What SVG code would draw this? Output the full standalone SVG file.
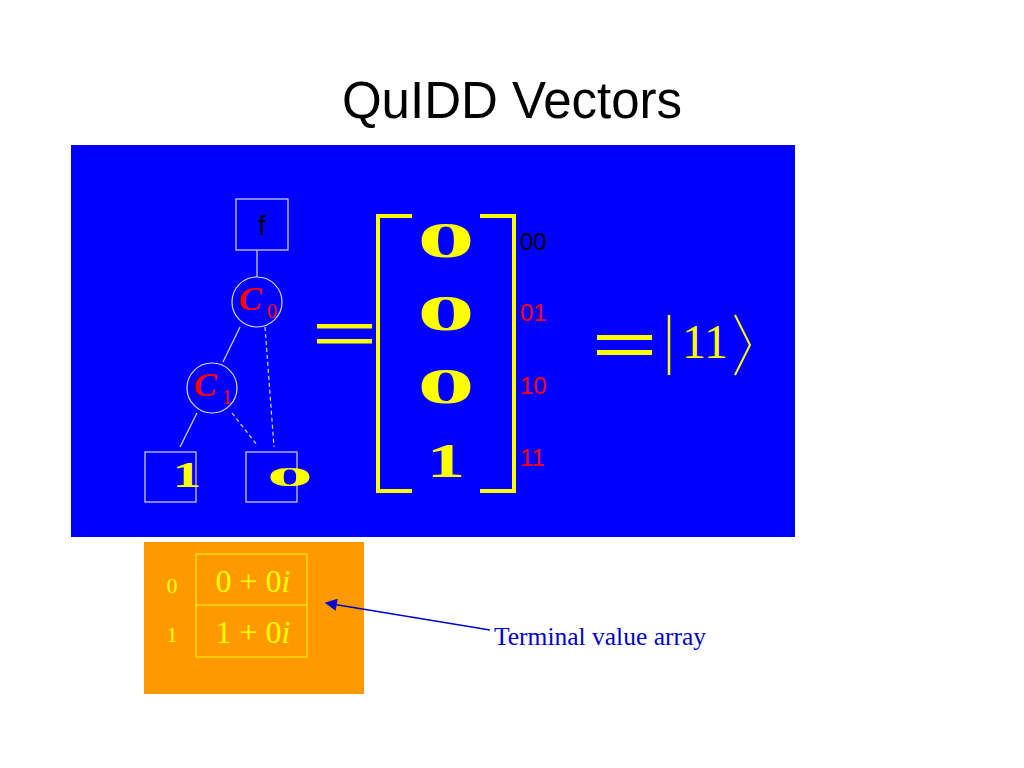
<svg xmlns="http://www.w3.org/2000/svg" width="1024" height="768" viewBox="0 0 1024 768">
<style>
.node{fill:none;stroke:#d8d8ff;stroke-width:1.2}
.edge{stroke:#d8d8ff;stroke-width:1.2;fill:none}
.dash{stroke-dasharray:4,3}
.yel{fill:#ffff00}
.ybold{font-family:"Liberation Serif",serif;font-weight:bold;fill:#ffff00}
.var{font-family:"Liberation Serif",serif;font-style:italic;font-weight:bold;fill:#ff0000}
.sub{font-family:"Liberation Serif",serif;font-style:normal;fill:#ff0000}
.lab{font-family:"Liberation Sans",sans-serif;font-size:24px}
.serif{font-family:"Liberation Serif",serif}
</style>
<defs>
<marker id="ah" viewBox="0 0 10 10" refX="9" refY="5" markerWidth="15" markerHeight="12" markerUnits="userSpaceOnUse" orient="auto">
<path d="M0,0 L10,5 L0,10 z" fill="#0000cc"/>
</marker>
</defs>
<rect width="1024" height="768" fill="#ffffff"/>
<text x="512" y="118" text-anchor="middle" font-family="Liberation Sans, sans-serif" font-size="51" fill="#000000">QuIDD Vectors</text>
<rect x="71" y="145" width="724" height="392" fill="#0000ff"/>
<rect x="144" y="542" width="220" height="152" fill="#ff9900"/>

<g id="connectors">
<line class="edge" x1="257" y1="250" x2="257" y2="277"/>
<line class="edge" x1="240" y1="327" x2="223" y2="362"/>
<line class="edge dash" x1="265" y1="327" x2="274" y2="447"/>
<line class="edge" x1="197" y1="413" x2="180" y2="447"/>
<line class="edge dash" x1="232" y1="413" x2="257" y2="445"/>
<line x1="490" y1="630" x2="326" y2="603" stroke="#0000cc" stroke-width="1.5" marker-end="url(#ah)"/>
</g>

<g id="node-f">
<rect class="node" x="236" y="199" width="52" height="51"/>
<text x="262" y="235" text-anchor="middle" font-family="Liberation Sans, sans-serif" font-size="27" fill="#000000">f</text>
</g>
<g id="node-c0">
<circle class="node" cx="257" cy="302" r="25"/>
<text x="239" y="310" class="var" font-size="34">C</text>
<text x="267" y="318" class="sub" font-size="20">0</text>
</g>
<g id="node-c1">
<circle class="node" cx="212" cy="388" r="25"/>
<text x="194" y="396" class="var" font-size="34">C</text>
<text x="222" y="404" class="sub" font-size="20">1</text>
</g>
<g id="node-t1">
<rect class="node" x="145" y="452" width="51" height="50"/>
<text class="ybold" font-size="36" text-anchor="middle" transform="translate(187,487) scale(1.6,1)">1</text>
</g>
<g id="node-t0">
<rect class="node" x="246" y="452" width="51" height="50"/>
<text class="ybold" font-size="27" text-anchor="middle" transform="translate(290,486) scale(3.4,1)">0</text>
</g>

<g id="vector">
<rect class="yel" x="317" y="324" width="55" height="4.5"/>
<rect class="yel" x="317" y="339" width="55" height="4.5"/>
<path d="M412,216 L378,216 L378,491 L412,491" fill="none" stroke="#ffff00" stroke-width="4"/>
<path d="M480,216 L514,216 L514,491 L480,491" fill="none" stroke="#ffff00" stroke-width="4"/>
<text class="ybold" font-size="50" text-anchor="middle" transform="translate(446,257) scale(2.3,1)">0</text>
<text class="ybold" font-size="50" text-anchor="middle" transform="translate(446,330) scale(2.3,1)">0</text>
<text class="ybold" font-size="50" text-anchor="middle" transform="translate(446,403) scale(2.3,1)">0</text>
<text class="ybold" font-size="48" text-anchor="middle" transform="translate(446,477) scale(1.6,1)">1</text>
<text x="520" y="250" class="lab" fill="#000000">00</text>
<text x="520" y="321" class="lab" fill="#ff0000">01</text>
<text x="520" y="394" class="lab" fill="#ff0000">10</text>
<text x="520" y="466" class="lab" fill="#ff0000">11</text>
</g>

<g id="ket">
<rect class="yel" x="597" y="335" width="55" height="5"/>
<rect class="yel" x="597" y="350" width="55" height="5"/>
<line x1="669" y1="315" x2="669" y2="375" stroke="#ffff00" stroke-width="2.5"/>
<text x="705" y="358" text-anchor="middle" class="serif" font-size="48" fill="#ffff00">11</text>
<path d="M735,315 L750,345 L735,375" fill="none" stroke="#ffff00" stroke-width="2"/>
</g>

<g id="terminal-array">
<rect x="196" y="554" width="111" height="103" fill="none" stroke="#ffff00" stroke-width="1"/>
<line x1="196" y1="605" x2="307" y2="605" stroke="#ffff00" stroke-width="1"/>
<text x="253" y="592" text-anchor="middle" class="serif" font-size="32" fill="#ffff00">0 + 0<tspan font-style="italic">i</tspan></text>
<text x="253" y="643" text-anchor="middle" class="serif" font-size="32" fill="#ffff00">1 + 0<tspan font-style="italic">i</tspan></text>
<text x="172" y="593" text-anchor="middle" class="serif" font-size="22" fill="#ffff00">0</text>
<text x="172" y="642" text-anchor="middle" class="serif" font-size="22" fill="#ffff00">1</text>
</g>

<text x="494" y="645" class="serif" font-size="25.5" fill="#0000cc">Terminal value array</text>
</svg>
